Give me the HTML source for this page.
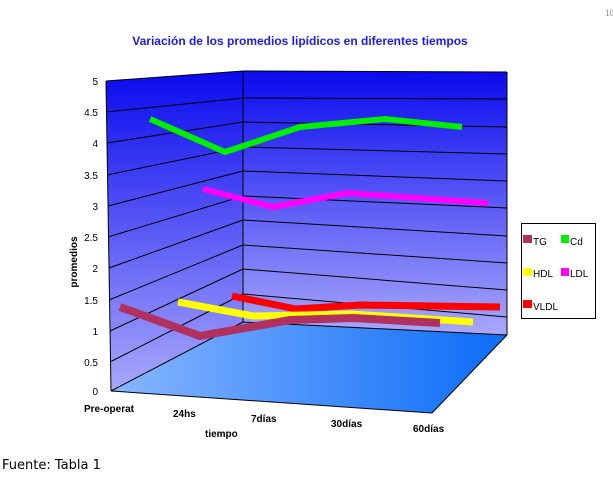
<!DOCTYPE html>
<html><head><meta charset="utf-8"><style>
html,body{margin:0;padding:0;background:#fff;width:613px;height:482px;overflow:hidden}
svg{display:block;font-family:"Liberation Sans","DejaVu Sans",sans-serif}
</style></head><body>
<svg width="613" height="482" viewBox="0 0 613 482">
<defs>
<linearGradient id="wall" x1="0" y1="0" x2="0" y2="1">
<stop offset="0" stop-color="#0a0aee"/><stop offset="0.5" stop-color="#5a5af6"/><stop offset="1" stop-color="#a8a8fa"/>
</linearGradient>
<linearGradient id="floor" x1="0" y1="0" x2="1" y2="0">
<stop offset="0" stop-color="#88b6ff"/><stop offset="1" stop-color="#0a6cf8"/>
</linearGradient>
</defs>
<text x="605" y="16" font-size="9" fill="#888" font-family="Liberation Serif,serif">10</text>
<text x="300" y="45" font-size="12" font-weight="bold" fill="#1a1aee" text-anchor="middle">Variación de los promedios lipídicos en diferentes tiempos</text>
<polygon points="106,81 243,71 243,322 111,391" fill="url(#wall)"/>
<polygon points="243,71 507,72 507,335 243,322" fill="url(#wall)"/>
<polygon points="111,391 243,322 507,335 432,413" fill="url(#floor)"/>
<g stroke="#000" stroke-width="1" fill="none">
<line x1="106" y1="81" x2="243" y2="71"/><line x1="243" y1="71" x2="507" y2="72"/>
<line x1="106" y1="112" x2="243" y2="98"/><line x1="243" y1="98" x2="507" y2="99"/>
<line x1="107" y1="143" x2="243" y2="122"/><line x1="243" y1="122" x2="507" y2="127"/>
<line x1="107" y1="175" x2="243" y2="147"/><line x1="243" y1="147" x2="507" y2="154"/>
<line x1="108" y1="206" x2="243" y2="171"/><line x1="243" y1="171" x2="507" y2="181"/>
<line x1="108" y1="237" x2="243" y2="196"/><line x1="243" y1="196" x2="507" y2="208"/>
<line x1="109" y1="268" x2="243" y2="220"/><line x1="243" y1="220" x2="507" y2="236"/>
<line x1="109" y1="300" x2="243" y2="245"/><line x1="243" y1="245" x2="507" y2="263"/>
<line x1="110" y1="331" x2="243" y2="269"/><line x1="243" y1="269" x2="507" y2="290"/>
<line x1="110" y1="362" x2="243" y2="294"/><line x1="243" y1="294" x2="507" y2="317"/>
<line x1="111" y1="391" x2="243" y2="322"/><line x1="243" y1="322" x2="507" y2="335"/>
<line x1="243" y1="71" x2="243" y2="322"/>
<line x1="106" y1="81" x2="111" y2="391"/>
<line x1="111" y1="391" x2="432" y2="413"/>
<line x1="432" y1="413" x2="507" y2="335"/>
<line x1="507" y1="72" x2="507" y2="335"/>
</g>
<g stroke-linejoin="miter" fill="none">
<polyline points="150,119 225,152 300,127 385,119 462,127" stroke="#00ee00" stroke-width="6"/>
<polyline points="203,189 273,207 347,193 488,203" stroke="#ff00ff" stroke-width="6"/>
<polyline points="232,296 296,309 360,305 500,307" stroke="#ff0000" stroke-width="7"/>
<polyline points="178,302 253,316 352,314 473,322" stroke="#ffff00" stroke-width="7"/>
<polyline points="120,307 200,336 290,320 353,318 440,323" stroke="#b03060" stroke-width="8"/>
</g>
<g font-size="10" text-anchor="end" fill="#000">
<text x="98" y="85">5</text><text x="98" y="116">4.5</text><text x="98" y="147">4</text>
<text x="98" y="179">3.5</text><text x="98" y="210">3</text><text x="98" y="241">2.5</text>
<text x="98" y="272">2</text><text x="98" y="304">1.5</text><text x="98" y="335">1</text>
<text x="98" y="366">0.5</text><text x="98" y="395">0</text>
</g>
<text transform="translate(77,262) rotate(-90)" font-size="10" font-weight="bold" text-anchor="middle">promedios</text>
<g font-size="10" font-weight="bold">
<text x="84" y="412">Pre-operat</text>
<text x="173" y="417">24hs</text>
<text x="251" y="422">7días</text>
<text x="331" y="427">30días</text>
<text x="413" y="432">60días</text>
<text x="205" y="437">tiempo</text>
</g>
<rect x="521.5" y="223.5" width="74" height="95" fill="#fff" stroke="#000"/>
<g font-size="10">
<rect x="523" y="235" width="9" height="8" fill="#b03060"/><text x="533" y="245">TG</text>
<rect x="561" y="235" width="8" height="8" fill="#00ee00"/><text x="570" y="245">Cd</text>
<rect x="523" y="268" width="9" height="8" fill="#ffff00"/><text x="533" y="277">HDL</text>
<rect x="561" y="268" width="8" height="8" fill="#ff00ff"/><text x="570" y="277">LDL</text>
<rect x="523" y="300" width="9" height="8" fill="#ff0000"/><text x="533" y="310">VLDL</text>
</g>
<text x="2" y="469" font-size="13" font-family="DejaVu Sans,sans-serif">Fuente: Tabla 1</text>
</svg>
</body></html>
